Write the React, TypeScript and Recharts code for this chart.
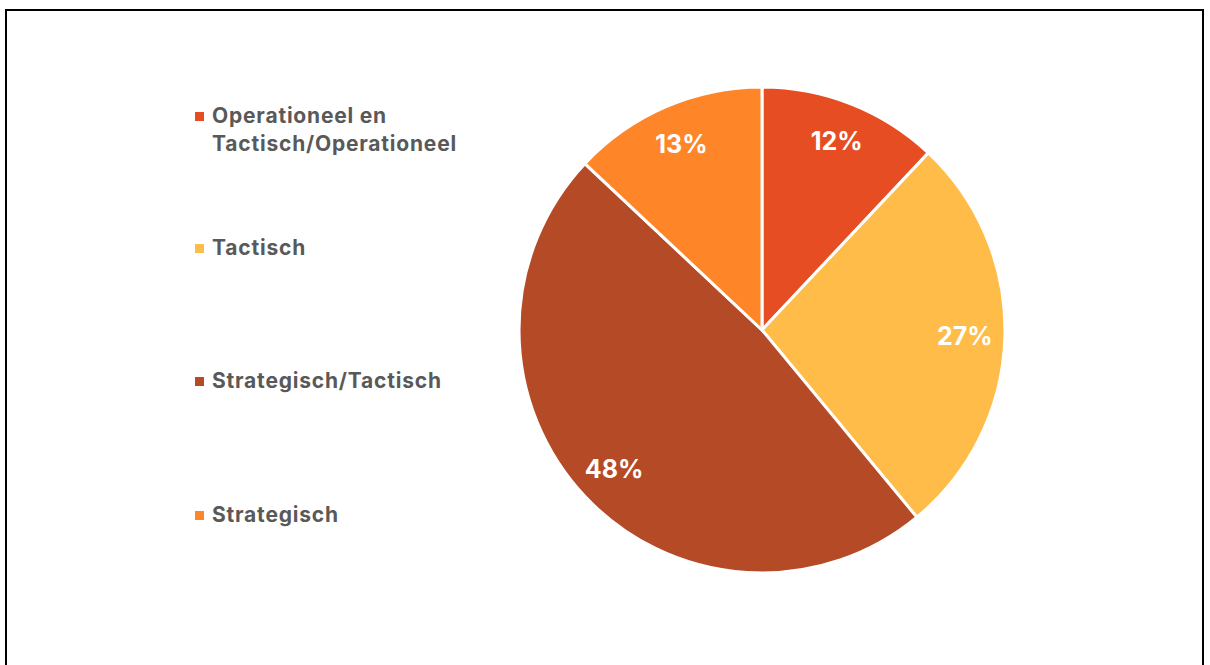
import React from 'react';
import { PieChart, Pie, Cell } from 'recharts';

const categories = ['Operationeel en Tactisch/Operationeel', 'Tactisch', 'Strategisch/Tactisch', 'Strategisch'];
const shares = [12, 27, 48, 13];
const colors = ['#E64D23', '#FFBC48', '#B54A27', '#FF8628'];

const data = categories.map((name, i) => ({ name, value: shares[i] }));

const RADIAN = Math.PI / 180;
const FONT = 'Inter, "Open Sans", sans-serif';

const renderLabel = (props: any) => {
    const { cx, cy, midAngle, outerRadius, percent } = props;
    const r = outerRadius * 0.835;
    const x = cx + r * Math.cos(-midAngle * RADIAN);
    const y = cy + r * Math.sin(-midAngle * RADIAN);
    return (
        <text x={x} y={y} fill="#ffffff" textAnchor="middle" dominantBaseline="central"
            style={{ fontFamily: FONT, fontWeight: 700, fontSize: 25 }}>
            {`${Math.round(percent * 100)}%`}
        </text>
    );
};

// legend item tops, matching the spacing in the original
const legendTops = [102, 234, 367, 501];

const ChartLegend = () => (
    <div style={{ position: 'absolute', left: 195, top: 0, width: 320 }}>
        {data.map((d, i) => (
            <div key={d.name} style={{ position: 'absolute', left: 0, top: legendTops[i], display: 'flex', alignItems: 'flex-start' }}>
                <span style={{ width: 9, height: 9, background: colors[i], marginTop: 10, marginRight: 8, flexShrink: 0 }} />
                <span style={{
                    fontFamily: FONT, fontWeight: 700, fontSize: 21, letterSpacing: 0.8,
                    lineHeight: '28px', color: '#595959', width: 280,
                }}>
                    {d.name}
                </span>
            </div>
        ))}
    </div>
);

export default function App() {
    return (
        <div style={{ position: 'absolute', left: 0, top: 0, width: 1210, height: 665, background: '#fff', overflow: 'hidden' }}>
            <div style={{ position: 'absolute', left: 5, top: 9, width: 1199, height: 700, border: '2px solid #000', boxSizing: 'border-box' }} />
            <div style={{ position: 'absolute', left: 0, top: 0 }}>
                <PieChart width={1210} height={665} margin={{ top: 0, right: 0, bottom: 0, left: 0 }}>
                    <Pie
                        data={data}
                        dataKey="value"
                        nameKey="name"
                        cx={762}
                        cy={330}
                        outerRadius={243}
                        startAngle={90}
                        endAngle={-270}
                        stroke="#ffffff"
                        strokeWidth={3}
                        label={renderLabel}
                        labelLine={false}
                        isAnimationActive={false}
                    >
                        {data.map((d, i) => (
                            <Cell key={d.name} fill={colors[i]} />
                        ))}
                    </Pie>
                </PieChart>
            </div>
            <ChartLegend />
        </div>
    );
}
